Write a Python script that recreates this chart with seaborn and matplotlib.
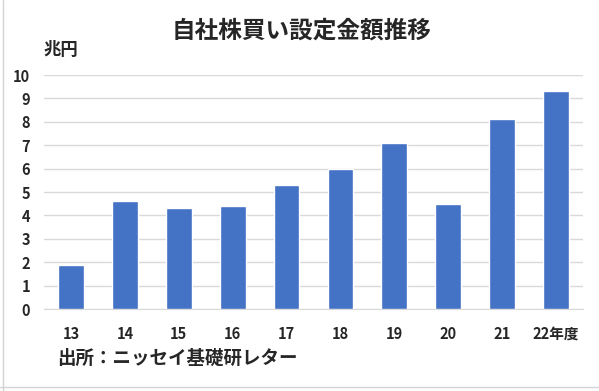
import matplotlib
matplotlib.use("Agg")
import pandas as pd
from matplotlib import pyplot as plt
from matplotlib.lines import Line2D
import seaborn as sns

# data (trillion yen)
years = ["13", "14", "15", "16", "17", "18", "19", "20", "21", "22年度"]
amounts = [1.9, 4.6, 4.3, 4.4, 5.3, 6.0, 7.1, 4.5, 8.1, 9.3]

df = pd.DataFrame({"year": years, "amount": amounts})

sns.set_style("white")
plt.rcParams['font.family'] = ['Noto Sans CJK JP', 'DejaVu Sans']

fig = plt.figure(figsize=(5.99, 3.91), dpi=100)
ax = fig.add_axes([44 / 599, 82 / 391, 539 / 599, 234 / 391])

sns.barplot(data=df, x="year", y="amount", color="#4472C4", saturation=1,
            width=0.48, ax=ax, zorder=3)

ax.set_ylim(0, 10)
ax.set_xlim(-0.5, len(years) - 0.5)
ax.set_yticks(range(0, 11))
ax.yaxis.grid(True, color="#d9d9d9", linewidth=1, zorder=0)
ax.set_axisbelow(True)
for s in ["top", "right", "left"]:
    ax.spines[s].set_visible(False)
ax.spines["bottom"].set_color("#d9d9d9")
ax.tick_params(axis="both", length=0, labelsize=10.5)
ax.tick_params(axis="x", pad=12)
ax.tick_params(axis="y", pad=10)
for lab in ax.get_xticklabels() + ax.get_yticklabels():
    lab.set_fontweight("bold")
ax.set_xlabel("")
ax.set_ylabel("")

fig.text(0.503, 0.922, "自社株買い設定金額推移", ha="center", va="center",
         fontsize=17, fontweight="bold")
fig.text(44 / 599, 0.872, "兆円", ha="left", va="center", fontsize=12.5,
         fontweight="bold")
fig.text(57 / 599, 1 - 358 / 391, "出所：ニッセイ基礎研レター", ha="left",
         va="center", fontsize=13.3, fontweight="bold")

# faint spreadsheet cell borders around the chart
fig.add_artist(Line2D([3 / 599, 3 / 599], [0, 1], color="#d4d4d4", lw=1))
fig.add_artist(Line2D([0, 1], [4 / 391, 4 / 391], color="#d4d4d4", lw=1))

fig.savefig("out.png", dpi=100)
